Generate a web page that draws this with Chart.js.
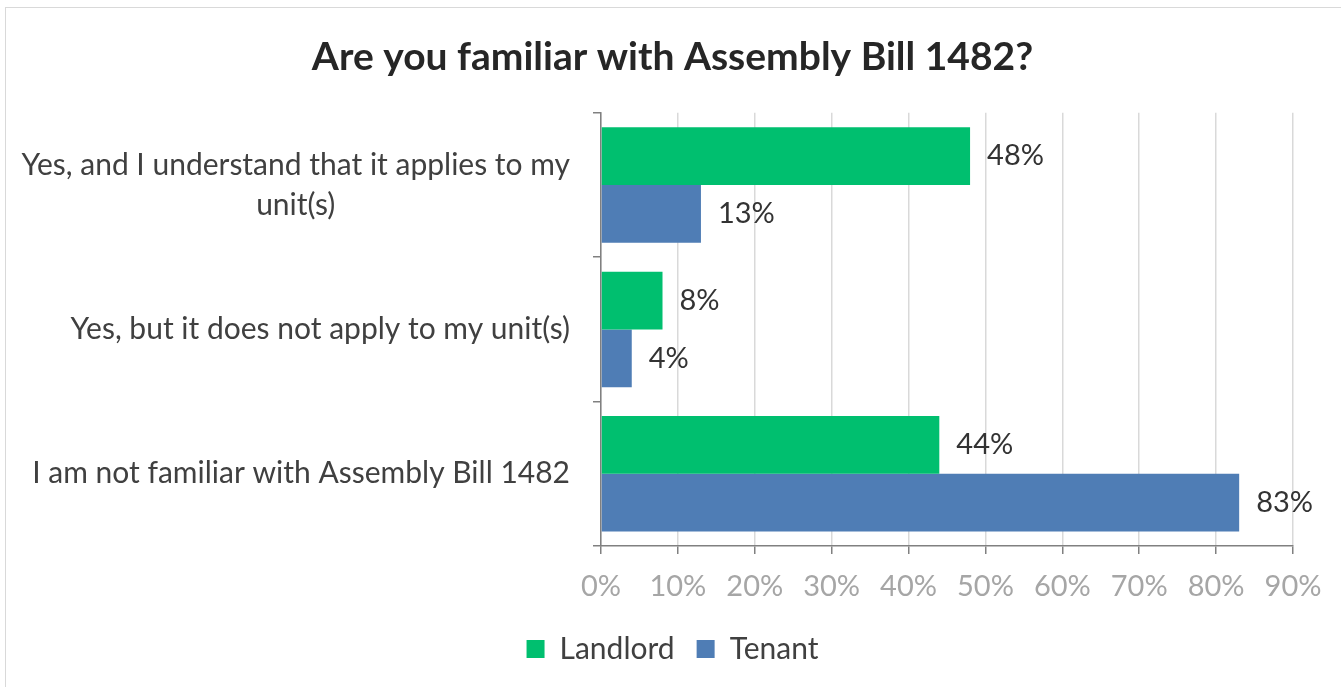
<!DOCTYPE html>
<html lang="en">
<head>
  <meta charset="UTF-8" />
  <title>Are you familiar with Assembly Bill 1482?</title>
  <script src="https://cdn.jsdelivr.net/npm/chart.js"></script>
  <style>
    html, body { margin: 0; padding: 0; background: #fff; overflow: hidden; }
    #wrap { position: relative; width: 1341px; height: 687px; }
    #frame { position: absolute; left: 5px; top: 7px; width: 1400px; height: 800px; border: 1px solid #d9d9d9; box-sizing: border-box; }
    canvas { position: absolute; left: 0; top: 0; }
  </style>
</head>
<body>
  <div id="wrap">
    <div id="frame"></div>
    <canvas id="billChart" width="1341" height="687"></canvas>
  </div>

  <script>
    const categories = [
      ["Yes, and I understand that it applies to my", "unit(s)"],
      ["Yes, but it does not apply to my unit(s)"],
      ["I am not familiar with Assembly Bill 1482"]
    ];
    const landlord = [48, 8, 44];
    const tenant = [13, 4, 83];
    const xTicks = [0, 10, 20, 30, 40, 50, 60, 70, 80, 90];

    const textColor = '#404040';

    // labels right-aligned as a block, lines centered inside the block (like Excel)
    const categoryLabels = {
      id: 'categoryLabels',
      afterDraw(chart) {
        const ctx = chart.ctx;
        const y = chart.scales.y;
        const right = y.right - 31;
        const lineH = 40;
        ctx.save();
        ctx.font = '30px Lato';
        ctx.fillStyle = textColor;
        ctx.textBaseline = 'middle';
        ctx.textAlign = 'center';
        categories.forEach((lines, i) => {
          const w = Math.max(...lines.map(l => ctx.measureText(l).width));
          const cx = right - w / 2;
          const cy = y.getPixelForValue(i);
          const top = cy - (lines.length - 1) * lineH / 2;
          lines.forEach((l, j) => ctx.fillText(l, cx, top + j * lineH));
        });
        ctx.restore();
      }
    };

    const valueLabels = {
      id: 'valueLabels',
      afterDatasetsDraw(chart) {
        const ctx = chart.ctx;
        ctx.save();
        ctx.font = '29px Lato';
        ctx.fillStyle = '#333333';
        ctx.textBaseline = 'middle';
        ctx.textAlign = 'left';
        chart.data.datasets.forEach((ds, di) => {
          chart.getDatasetMeta(di).data.forEach((bar, i) => {
            ctx.fillText(ds.data[i] + '%', bar.x + 17, bar.y);
          });
        });
        ctx.restore();
      }
    };

    new Chart(document.getElementById('billChart'), {
      type: 'bar',
      data: {
        labels: categories,
        datasets: [
          { label: 'Landlord', data: landlord, backgroundColor: '#00bf6f', categoryPercentage: 0.8, barPercentage: 1.0 },
          { label: 'Tenant', data: tenant, backgroundColor: '#4f7db5', categoryPercentage: 0.8, barPercentage: 1.0 }
        ]
      },
      options: {
        indexAxis: 'y',
        responsive: false,
        animation: false,
        layout: { padding: { left: 52, right: 48, top: 0, bottom: 13 } },
        plugins: {
          title: {
            display: true,
            text: 'Are you familiar with Assembly Bill 1482?',
            color: '#262626',
            font: { family: 'Lato', size: 39, weight: 'bold' },
            padding: { top: 34, bottom: 32 }
          },
          legend: {
            position: 'bottom',
            labels: {
              color: textColor,
              font: { family: 'Lato', size: 30 },
              boxWidth: 18,
              boxHeight: 18,
              padding: 22
            }
          },
          tooltip: { enabled: false }
        },
        scales: {
          x: {
            min: 0,
            max: 90,
            afterBuildTicks(scale) { scale.ticks = xTicks.map(v => ({ value: v })); },
            afterFit(scale) { scale.height = 66; },
            ticks: {
              color: '#a6a6a6',
              font: { family: 'Lato', size: 29 },
              padding: 15,
              callback: v => v + '%'
            },
            grid: { color: '#d9d9d9', lineWidth: 1.5, tickColor: '#808080', tickLength: 8 },
            border: { color: '#808080', width: 1.5 }
          },
          y: {
            afterFit(scale) { scale.width = 549; },
            ticks: { display: false },
            grid: { drawOnChartArea: false, color: '#808080', lineWidth: 1.5, tickLength: 8, offset: true },
            border: { color: '#808080', width: 1.5 }
          }
        }
      },
      plugins: [categoryLabels, valueLabels]
    });
  </script>
</body>
</html>
